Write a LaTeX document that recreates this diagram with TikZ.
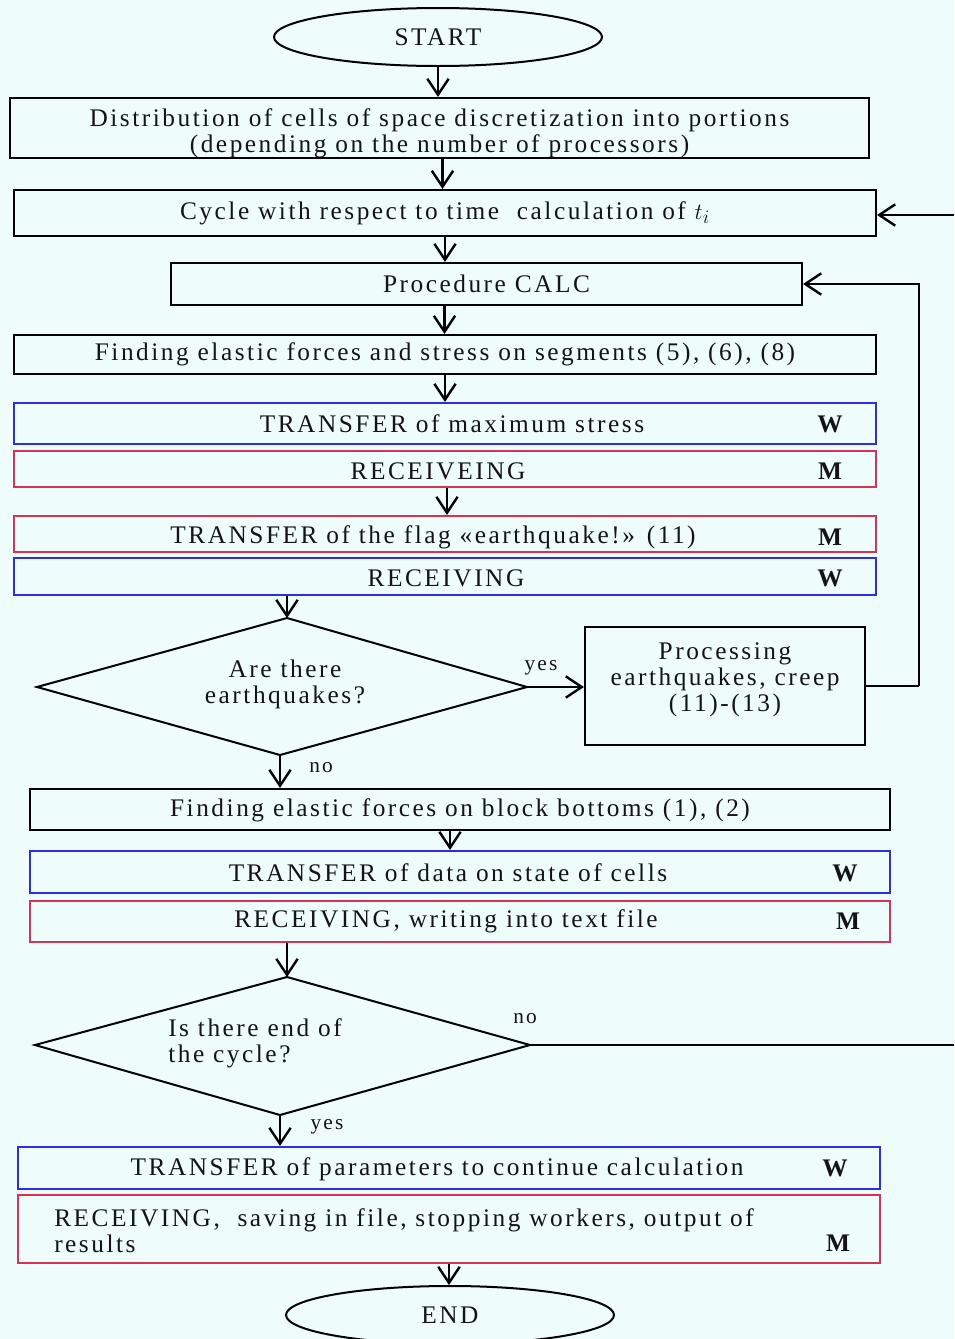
\documentclass[tikz,border=0pt]{standalone}
\usepackage{fontspec}
\setmainfont{Liberation Serif}[LetterSpace=10]
\usetikzlibrary{arrows.meta,fit,calc,shapes.geometric}
\definecolor{bg}{RGB}{239,252,252}
\definecolor{wblue}{RGB}{45,45,225}
\definecolor{mred}{RGB}{215,50,85}
\definecolor{ink}{RGB}{20,20,20}
\begin{document}
\begin{tikzpicture}[x=0.75pt,y=-0.75pt,
  font=\fontsize{19}{19.5}\selectfont, text=ink,
  box/.style={draw=black, line width=1.6pt, inner sep=0pt},
  wbox/.style={box, draw=wblue},
  mbox/.style={box, draw=mred},
  txt/.style={align=center, inner sep=0pt, anchor=center},
  term/.style={draw=black, ellipse, line width=1.5pt, inner sep=0pt, minimum width=246pt, minimum height=43.5pt},
  arr/.style={-{Straight Barb[length=12pt,width=16pt,line width=1.8pt]}, line width=1.6pt, draw=black},
  conn/.style={line width=1.5pt, draw=black},
  dia/.style={draw=black, line width=1.5pt},
  lbl/.style={font=\fontsize{16}{17}\selectfont},
  tag/.style={font=\fontsize{19}{19}\selectfont\bfseries, anchor=center}
]
\fill[bg] (0,0) rectangle (954,1339);
\useasboundingbox (0,0) rectangle (954,1339);

% terminals
\node[term] (start) at (438,37) {START};

% boxes
\node[box, fit={(10,98) (869,158)}] (b1) {};
\node[txt] (t1) at ($(b1.center)+(0,5)$) {Distribution of cells of space discretization into portions\\(depending on the number of processors)};
\node[box, fit={(14,190) (876,236)}] (b2) {};
\node[txt] (t2) at (b2.center) {Cycle with respect to time\ \ calculation of $t_i$};
\node[box, fit={(171,263) (802,305)}] (b3) {};
\node[txt] (t3) at (b3.center) {Procedure CALC};
\node[box, fit={(14,335) (876,374)}] (b4) {};
\node[txt] (t4) at (b4.center) {Finding elastic forces and stress on segments (5), (6), (8)};
\node[wbox, fit={(14,403) (876,444)}] (b5) {};
\node[txt] (t5) at (452,424) {TRANSFER of maximum stress};
\node[mbox, fit={(14,451) (876,487)}] (b6) {};
\node[txt] (t6) at (438,471) {RECEIVEING};
\node[mbox, fit={(14,516) (876,552)}] (b7) {};
\node[txt] (t7) at (433,537) {TRANSFER of the flag «earthquake!» (11)};
\node[wbox, fit={(14,558) (876,595)}] (b8) {};
\node[txt] (t8) at (446,578) {RECEIVING};

\node[tag] (w5) at (830,424) {W};
\node[tag] (m6) at (830,471) {M};
\node[tag] (m7) at (830,537) {M};
\node[tag] (w8) at (830,578) {W};

% diamond 1
\coordinate (d1t) at (287,618);
\coordinate (d1r) at (527,687);
\coordinate (d1b) at (280,755);
\coordinate (d1l) at (37,687);
\draw[dia] (d1t) -- (d1r) -- (d1b) -- (d1l) -- cycle;
\node[txt] (q1) at (285,684) {Are there\\earthquakes?};

\node[box, fit={(585,627) (865,745)}] (b9) {};
\node[txt] (t9) at ($(b9.center)+(0,-6)$) {Processing\\earthquakes, creep\\(11)-(13)};

\node[box, fit={(30,789) (890,830)}] (b10) {};
\node[txt] (t10) at (460,810) {Finding elastic forces on block bottoms (1), (2)};
\node[wbox, fit={(30,851) (890,893)}] (b11) {};
\node[txt] (t11) at (448,873) {TRANSFER of data on state of cells};
\node[mbox, fit={(30,901) (890,942)}] (b12) {};
\node[txt] (t12) at (446,921) {RECEIVING, writing into text file};
\node[tag] (w11) at (845,873) {W};
\node[tag] (m12) at (848,921) {M};

% diamond 2
\coordinate (d2t) at (287,977);
\coordinate (d2r) at (530,1045);
\coordinate (d2b) at (280,1115);
\coordinate (d2l) at (35,1045);
\draw[dia] (d2t) -- (d2r) -- (d2b) -- (d2l) -- cycle;
\node[align=left, anchor=west, inner sep=0pt] (q2) at (168,1043) {Is there end of\\the cycle?};

\node[wbox, fit={(18,1147) (880,1189)}] (b13) {};
\node[txt] (t13) at (437,1169) {TRANSFER of parameters to continue calculation};
\node[mbox, fit={(18,1195) (880,1263)}] (b14) {};
\node[align=left, anchor=west, inner sep=0pt] (t14) at (54,1231) {RECEIVING,\ \ saving in file, stopping workers, output of\\results};
\node[tag] (w13) at (835,1168) {W};
\node[tag] (m14) at (838,1243) {M};

\node[term] (end) at (450,1315) {END};

% connectors
\draw[arr] (start.south) -- (start.south |- b1.north);
\draw[arr] ($(b1.south)+(3,0)$) -- ($(b1.south |- b2.north)+(3,0)$);
\draw[arr] (b2.south) -- (b2.south |- b3.north);
\draw[arr] ($(b3.south)+(-42,0)$) -- ($(b3.south |- b4.north)+(-42,0)$);
\draw[arr] (b4.south) -- (b4.south |- b5.north);
\draw[arr] ($(b6.south)+(2,0)$) -- ($(b6.south |- b7.north)+(2,0)$);
\draw[arr] (b8.south -| d1t) -- (d1t);
\draw[arr] (d1r) -- (b9.west |- d1r);
\node[lbl] (yes1) at (541,668) {yes};
\draw[conn] (b9.east) -- ++(53,0) coordinate (lp);
\draw[arr] (lp) |- (b3.east);
\draw[arr] (d1b) -- (d1b |- b10.north);
\node[lbl] (no1) at (321,768) {no};
\draw[arr] ($(b10.south)+(-10,0)$) -- ($(b10.south |- b11.north)+(-10,0)$);
\draw[arr] (b12.south -| d2t) -- (d2t);
\coordinate (outR) at (954,1045);
\draw[conn] (d2r) -- (outR);
\node[lbl] (no2) at (525,1019) {no};
\draw[arr] (d2b) -- (d2b |- b13.north);
\node[lbl] (yes2) at (327,1127) {yes};
\draw[arr] (b14.south) -- (b14.south |- end.north);
\coordinate (inR) at (954,215);
\draw[arr] (inR) -- (b2.east |- inR);
\end{tikzpicture}
\end{document}
